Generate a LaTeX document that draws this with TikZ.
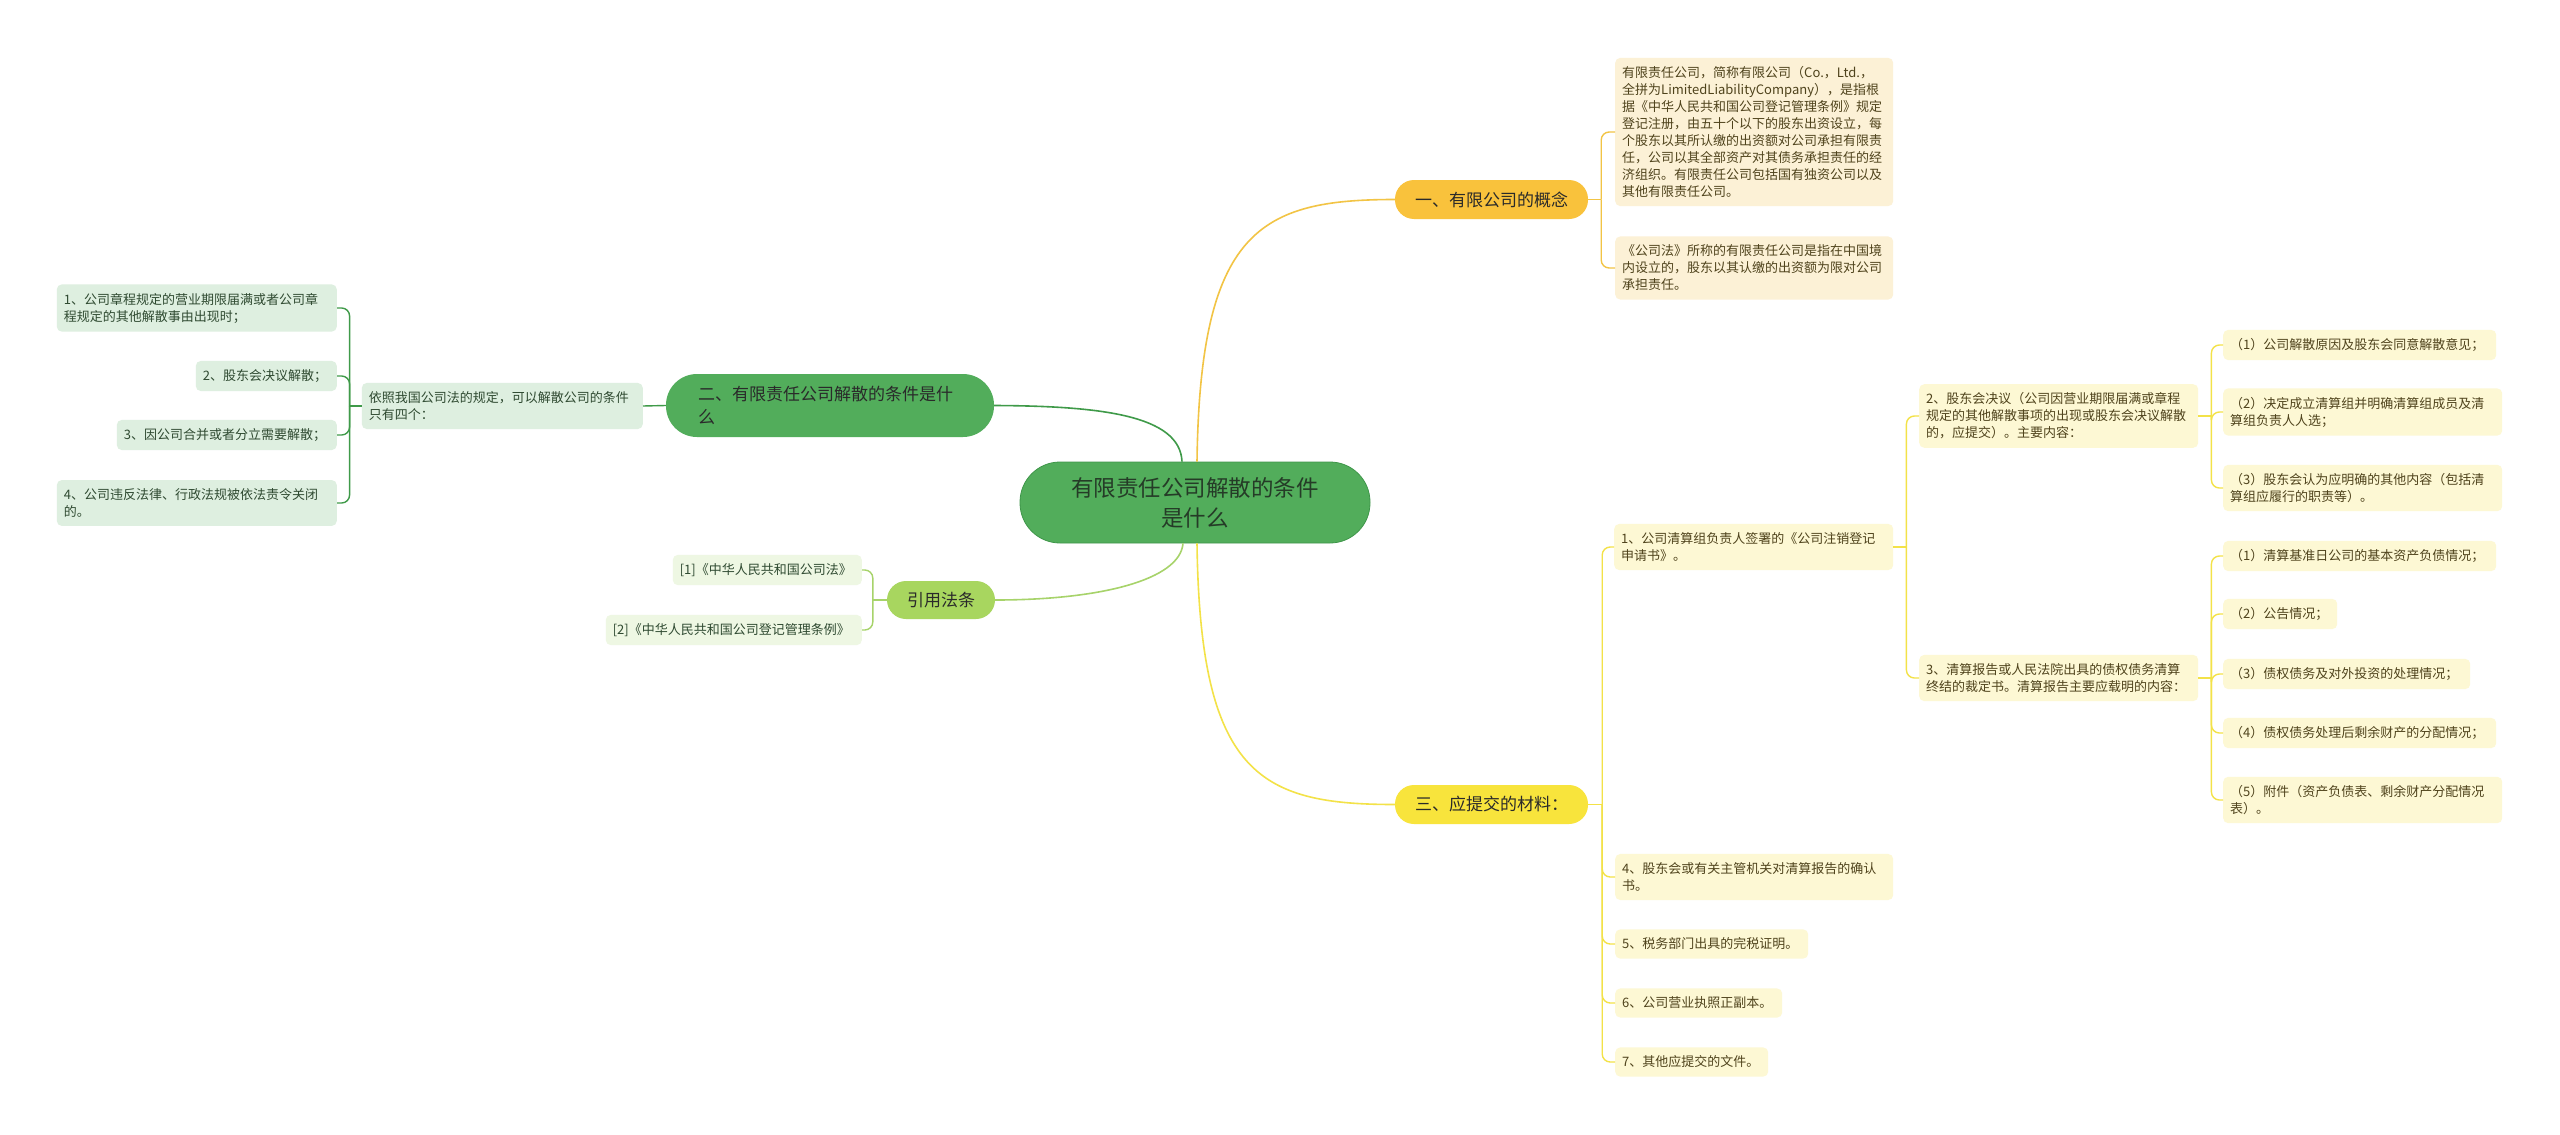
\documentclass[tikz,border=0pt]{standalone}
\usepackage{fontspec}
\setmainfont{Noto Sans CJK SC}
\usetikzlibrary{positioning,calc}
\definecolor{cRoot}{HTML}{52AD5B}
\definecolor{cRootD}{HTML}{3F964A}
\definecolor{cGold}{HTML}{F9C23C}
\definecolor{cGoldL}{HTML}{FCF1D6}
\definecolor{cGoldLn}{HTML}{F2C445}
\definecolor{cLemon}{HTML}{F8E43C}
\definecolor{cLemonL}{HTML}{FDF8D4}
\definecolor{cLemonLn}{HTML}{F3E248}
\definecolor{cGreenL}{HTML}{DEEFE0}
\definecolor{cGreenLn}{HTML}{3F9A49}
\definecolor{cLime}{HTML}{A8D65F}
\definecolor{cLimeL}{HTML}{EEF7E3}
\definecolor{cLimeLn}{HTML}{A7D36A}
\definecolor{cTxt}{HTML}{2A2A2A}
\definecolor{cYTxt}{HTML}{4F431C}
\definecolor{cGTxt}{HTML}{2F4A31}

\begin{document}
\begin{tikzpicture}[
  x=1pt, y=-1pt,
  topic/.style={fill=#1, rounded corners=19pt, minimum width=193pt,
                minimum height=39pt, inner sep=0pt, text=cTxt,
                font=\fontsize{17}{22}\selectfont},
  leaf/.style={fill=#1, rounded corners=5pt, inner xsep=7pt, inner ysep=8.5pt,
               align=left, font=\fontsize{13}{17}\selectfont},
  cleaf/.style={leaf=cGoldL, text=cYTxt, text width=#1},
  mleaf/.style={leaf=cLemonL, text=cYTxt, text width=#1},
  dleaf/.style={leaf=cGreenL, text=cGTxt, text width=#1},
  lleaf/.style={leaf=cLimeL, text=cGTxt, text width=#1},
  link/.style={draw=#1, line width=1.6pt},
  brk/.style={draw=#1, line width=1.4pt, rounded corners=8pt},
]
\fill[white] (0,0) rectangle (2560,1135);
\useasboundingbox (0,0) rectangle (2560,1135);

% ---- Root ----
\node[fill=cRoot, draw=cRootD, line width=0.8pt, rounded corners=40pt,
      minimum width=350pt, minimum height=81pt, align=center,
      text=cGTxt!80!black, font=\fontsize{22.5}{30}\selectfont] (root)
  at (1195,502.5) {有限责任公司解散的条件\\是什么};

% ---- 一、有限公司的概念 ----
\node[topic=cGold] (concept) at (1491.5,199.5) {一、有限公司的概念};
\node[cleaf=264pt, anchor=west] (cdef) at (1615,132)
  {有限责任公司，简称有限公司（Co.，Ltd.，\\
   全拼为LimitedLiabilityCompany），是指根\\
   据《中华人民共和国公司登记管理条例》规定\\
   登记注册，由五十个以下的股东出资设立，每\\
   个股东以其所认缴的出资额对公司承担有限责\\
   任，公司以其全部资产对其债务承担责任的经\\
   济组织。有限责任公司包括国有独资公司以及\\
   其他有限责任公司。};
\node[cleaf=264pt, anchor=west] (claw) at (1615,268)
  {《公司法》所称的有限责任公司是指在中国境\\
   内设立的，股东以其认缴的出资额为限对公司\\
   承担责任。};

% ---- 三、应提交的材料 ----
\node[topic=cLemon] (materials) at (1491.5,804.5) {三、应提交的材料：};
\node[mleaf=265pt, anchor=west] (m1) at (1614,547)
  {1、公司清算组负责人签署的《公司注销登记\\申请书》。};
\node[mleaf=265pt, anchor=west] (m2) at (1919,416)
  {2、股东会决议（公司因营业期限届满或章程\\
   规定的其他解散事项的出现或股东会决议解散\\
   的，应提交）。主要内容：};
\node[mleaf=265pt, anchor=west] (m3) at (1919,678)
  {3、清算报告或人民法院出具的债权债务清算\\
   终结的裁定书。清算报告主要应载明的内容：};
\node[mleaf=259pt, anchor=west] (m2a) at (2223,345)
  {（1）公司解散原因及股东会同意解散意见；};
\node[mleaf=265pt, anchor=west] (m2b) at (2223,412)
  {（2）决定成立清算组并明确清算组成员及清\\算组负责人人选；};
\node[mleaf=265pt, anchor=west] (m2c) at (2223,488)
  {（3）股东会认为应明确的其他内容（包括清\\算组应履行的职责等）。};
\node[mleaf=259pt, anchor=west] (m3a) at (2223,556)
  {（1）清算基准日公司的基本资产负债情况；};
\node[mleaf=100pt, anchor=west] (m3b) at (2223,614) {（2）公告情况；};
\node[mleaf=233pt, anchor=west] (m3c) at (2223,674)
  {（3）债权债务及对外投资的处理情况；};
\node[mleaf=259pt, anchor=west] (m3d) at (2223,733)
  {（4）债权债务处理后剩余财产的分配情况；};
\node[mleaf=265pt, anchor=west] (m3e) at (2223,800)
  {（5）附件（资产负债表、剩余财产分配情况\\表）。};
\node[mleaf=264pt, anchor=west] (m4) at (1615,877)
  {4、股东会或有关主管机关对清算报告的确认\\书。};
\node[mleaf=179pt, anchor=west] (m5) at (1615,944) {5、税务部门出具的完税证明。};
\node[mleaf=153pt, anchor=west] (m6) at (1615,1003) {6、公司营业执照正副本。};
\node[mleaf=139pt, anchor=west] (m7) at (1615,1062) {7、其他应提交的文件。};

% ---- 二、解散的条件 ----
\node[fill=cRoot, rounded corners=31pt, minimum height=63pt, text width=264pt,
      inner xsep=32pt, align=left, text=cTxt,
      font=\fontsize{17}{23}\selectfont] (cond)
  at (830,405.5) {二、有限责任公司解散的条件是什\\么};
\node[dleaf=267pt, anchor=east] (basis) at (643,406)
  {依照我国公司法的规定，可以解散公司的条件\\只有四个：};
\node[dleaf=266pt, anchor=east] (c1) at (337,308)
  {1、公司章程规定的营业期限届满或者公司章\\程规定的其他解散事由出现时；};
\node[dleaf=127pt, anchor=east] (c2) at (337,376) {2、股东会决议解散；};
\node[dleaf=206pt, anchor=east] (c3) at (337,435) {3、因公司合并或者分立需要解散；};
\node[dleaf=266pt, anchor=east] (c4) at (337,503)
  {4、公司违反法律、行政法规被依法责令关闭\\的。};

% ---- 引用法条 ----
\node[topic=cLime, minimum width=108pt, minimum height=38pt] (laws)
  at (941,600) {引用法条};
\node[lleaf=175pt, anchor=east] (law1) at (862,570) {[1]《中华人民共和国公司法》};
\node[lleaf=242pt, anchor=east] (law2) at (862,630) {[2]《中华人民共和国公司登记管理条例》};

% ---- Branches from the root ----
\draw[link=cGoldLn] ($(root.north)+(2,0)$) .. controls (1200,230) and (1260,199.5) .. (concept.west);
\draw[link=cLemonLn] ($(root.south)+(2,0)$) .. controls (1200,775) and (1260,804.5) .. (materials.west);
\draw[link=cGreenLn] (cond.east) .. controls (1100,406) and (1180,415) .. ($(root.north)+(-13,0)$);
\draw[link=cLimeLn] (laws.east) .. controls (1100,600) and (1180,580) .. ($(root.south)+(-12,0)$);

% ---- Brackets ----
\coordinate (kc) at ($(concept.east)+(13,0)$);
\draw[brk=cGoldLn] (concept.east) -- (kc);
\foreach \n in {cdef,claw} \draw[brk=cGoldLn] (kc) |- (\n.west);

\coordinate (km) at ($(materials.east)+(14,0)$);
\draw[brk=cLemonLn] (materials.east) -- (km);
\foreach \n in {m1,m4,m5,m6,m7} \draw[brk=cLemonLn] (km) |- (\n.west);

\coordinate (k1) at ($(m1.east)+(13,0)$);
\draw[brk=cLemonLn] (m1.east) -- (k1);
\foreach \n in {m2,m3} \draw[brk=cLemonLn] (k1) |- (\n.west);

\coordinate (k2) at ($(m2.east)+(13,0)$);
\draw[brk=cLemonLn] (m2.east) -- (k2);
\foreach \n in {m2a,m2b,m2c} \draw[brk=cLemonLn] (k2) |- (\n.west);

\coordinate (k3) at ($(m3.east)+(13,0)$);
\draw[brk=cLemonLn] (m3.east) -- (k3);
\foreach \n in {m3a,m3b,m3c,m3d,m3e} \draw[brk=cLemonLn] (k3) |- (\n.west);

\draw[link=cGreenLn, line width=1.4pt] (cond.west) -- (basis.east);
\coordinate (kb) at ($(basis.west)+(-12,0)$);
\draw[brk=cGreenLn] (basis.west) -- (kb);
\foreach \n in {c1,c2,c3,c4} \draw[brk=cGreenLn] (kb) |- (\n.east);

\coordinate (kl) at ($(laws.west)+(-14,0)$);
\draw[brk=cLimeLn] (laws.west) -- (kl);
\foreach \n in {law1,law2} \draw[brk=cLimeLn] (kl) |- (\n.east);

\end{tikzpicture}
\end{document}
